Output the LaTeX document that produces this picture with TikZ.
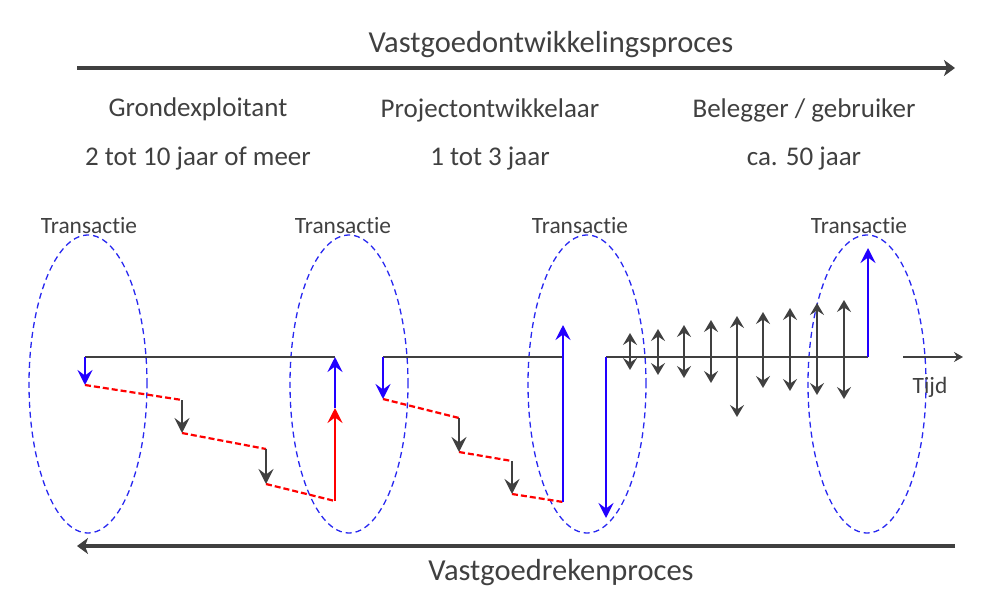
\documentclass[tikz,border=0pt]{standalone}
\usepackage{fontspec}
\setmainfont{Carlito}[Ligatures=NoCommon]
\usetikzlibrary{arrows.meta,shapes.geometric}
\definecolor{dg}{HTML}{404040}
\definecolor{bl}{RGB}{34,0,255}
\definecolor{rd}{RGB}{255,0,0}
\definecolor{el}{RGB}{40,40,240}
\begin{document}
\begin{tikzpicture}[x=1pt,y=-1pt,
  headarr/.style={-{Stealth[length=15pt,width=15pt,inset=5.5pt]}},
  dblarr/.style={draw=dg,line width=2.2pt,{Stealth[length=12pt,width=14pt,inset=4.5pt]}-{Stealth[length=12pt,width=14pt,inset=4.5pt]}},
  tline/.style={draw=dg,line width=2.2pt},
  bluearr/.style={draw=bl,line width=2.8pt,headarr},
  redarr/.style={draw=rd,line width=2.8pt,headarr},
  grayarr/.style={draw=dg,line width=2.2pt,headarr},
  reddash/.style={draw=rd,line width=2.2pt,dash pattern=on 6pt off 3pt},
  trans/.style={ellipse,draw=el,line width=1.3pt,dash pattern=on 6pt off 4pt,minimum width=118pt,minimum height=298pt,inner sep=0pt},
  bigarr/.style={draw=dg,line width=4.5pt},
  lbl/.style={text=dg,inner sep=0pt},
  ttl/.style={lbl,font=\fontsize{30.5}{34}\selectfont},
  act/.style={lbl,font=\fontsize{27}{31}\selectfont},
  sml/.style={lbl,font=\fontsize{23.4}{27}\selectfont},
]
\useasboundingbox (0,0) rectangle (989,597);

% process arrows and titles
\node[ttl] (t1) at (551,45) {Vastgoedontwikkelingsproces};
\coordinate (ta) at (77,68); \coordinate (tb) at (955,68);
\draw[bigarr,-{Stealth[length=11pt,width=16pt,inset=3pt]}] (ta) -- (tb);
\coordinate (ba) at (955,546); \coordinate (bb) at (77,546);
\draw[bigarr,-{Stealth[length=11pt,width=16pt,inset=3pt]}] (ba) -- (bb);
\node[ttl] (t2) at (561,573) {Vastgoedrekenproces};

% actors
\node[act] (g1) at (198,109) {Grondexploitant};
\node[act] (g2) at (198,159) {2 tot 10 jaar of meer};
\node[act] (p1) at (490,110) {Projectontwikkelaar};
\node[act] (p2) at (490,159) {1 tot 3 jaar};
\node[act] (b1) at (804,110) {Belegger / gebruiker};
\node[act] (b2) at (804,159) {ca. 50 jaar};

% transactions
\foreach \n/\x in {1/88,2/349,3/587,4/867}{
  \node[trans] (e\n) at (\x,384) {};
}
\node[sml] (tr1) at (89,226) {Transactie};
\node[sml] (tr2) at (343,226) {Transactie};
\node[sml] (tr3) at (580,226) {Transactie};
\node[sml] (tr4) at (859,226) {Transactie};

% segment 1: grondexploitatie
\coordinate (a1) at (85,357); \coordinate (a2) at (335,357);
\coordinate (r1) at (85,385); \coordinate (r2) at (182,400);
\coordinate (r3) at (182,433); \coordinate (r4) at (266,449);
\coordinate (r5) at (266,484); \coordinate (r6) at (335,501);
\coordinate (m1) at (335,408);
\draw[tline] (a1) -- (a2);
\draw[reddash] (r1) -- (r2);
\draw[reddash] (r3) -- (r4);
\draw[reddash] (r5) -- (r6);
\draw[bluearr] (a1) -- (r1);
\draw[grayarr] (r2) -- (r3);
\draw[grayarr] (r4) -- (r5);
\draw[redarr] (r6) -- (m1);
\draw[bluearr] (m1) -- (a2);

% segment 2: projectontwikkeling
\coordinate (s1) at (383,357); \coordinate (s2) at (563,357);
\coordinate (q1) at (383,399); \coordinate (q2) at (459,418);
\coordinate (q3) at (459,452); \coordinate (q4) at (512,461);
\coordinate (q5) at (512,494); \coordinate (q6) at (563,502);
\coordinate (w1) at (563,325);
\draw[tline] (s1) -- (s2);
\draw[reddash] (q1) -- (q2);
\draw[reddash] (q3) -- (q4);
\draw[reddash] (q5) -- (q6);
\draw[bluearr] (s1) -- (q1);
\draw[grayarr] (q2) -- (q3);
\draw[grayarr] (q4) -- (q5);
\draw[bluearr] (q6) -- (w1);

% segment 3: exploitatie
\coordinate (u1) at (606,357); \coordinate (u2) at (868,357);
\coordinate (u3) at (606,518); \coordinate (u4) at (868,248);
\draw[tline] (u1) -- (u2);
\draw[bluearr] (u1) -- (u3);
\draw[bluearr] (u2) -- (u4);
\foreach \i/\x/\yt/\yb in {1/630/333/370,2/658/329/375,3/684/325/378,4/711/320/383,5/737/316/417,6/763/312/388,7/790/308/391,8/817/303/395,9/844/300/399}{
  \coordinate (c\i t) at (\x,\yt);
  \coordinate (c\i b) at (\x,\yb);
  \draw[dblarr] (c\i t) -- (c\i b);
}

% time axis
\coordinate (x1) at (903,357); \coordinate (x2) at (963,357);
\draw[tline,-{Stealth[length=9pt,width=10pt,inset=3pt]}] (x1) -- (x2);
\node[sml] (tijd) at (930,387) {Tijd};
\end{tikzpicture}
\end{document}
